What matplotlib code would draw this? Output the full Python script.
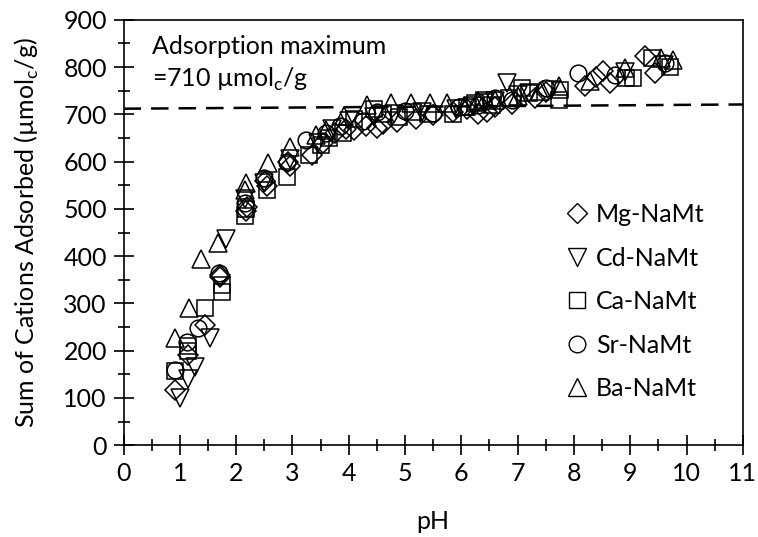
import matplotlib
matplotlib.use('Agg')
import matplotlib.pyplot as plt
from matplotlib.ticker import MultipleLocator

plt.rcParams['font.family'] = ['Lato', 'DejaVu Sans']
plt.rcParams['mathtext.fontset'] = 'custom'
plt.rcParams['mathtext.rm'] = 'Lato'

# pH / sum of adsorbed cations (umol_c/g)
mg_ph = [0.92, 1.15, 1.45, 1.72, 1.72, 2.17, 2.2, 2.55, 2.52, 2.95, 2.92, 3.35, 3.55, 3.75, 3.95,
         4.1, 4.3, 4.5, 4.6, 4.85, 5.2, 5.5, 5.85, 6.1, 6.3, 6.45, 6.6, 6.9, 7.3, 7.5, 8.2, 8.4,
         8.52, 8.64, 9.26, 9.44]
mg_ads = [116, 190, 254, 360, 355, 495, 505, 548, 560, 590, 600, 613, 640, 660, 670,
          668, 675, 672, 680, 684, 690, 698, 705, 712, 700, 705, 715, 722, 735, 748, 760, 780,
          791, 766, 823, 787]

cd_ph = [1.0, 1.15, 1.27, 1.53, 1.82, 2.15, 2.5, 2.95, 3.45, 3.7, 4.0, 4.45, 4.8, 5.3, 5.9,
         6.2, 6.4, 6.6, 6.81, 7.0, 7.2, 7.6, 8.9, 9.6]
cd_ads = [99, 141, 166, 226, 437, 520, 555, 605, 640, 670, 685, 695, 700, 705, 712,
          718, 725, 728, 766, 740, 745, 752, 790, 805]

ca_ph = [0.91, 1.15, 1.15, 1.44, 1.74, 1.74, 2.15, 2.18, 2.55, 2.9, 3.3, 3.5, 3.65, 3.9, 4.1,
         4.45, 4.6, 4.9, 5.15, 5.4, 5.85, 6.1, 6.25, 6.4, 6.55, 6.85, 7.08, 7.2, 7.73, 7.75,
         8.93, 9.05, 9.38, 9.7]
ca_ads = [157, 200, 210, 290, 325, 340, 484, 500, 540, 568, 614, 635, 650, 660, 690,
          712, 700, 695, 705, 700, 700, 715, 725, 730, 720, 735, 756, 745, 731, 752,
          777, 777, 819, 801]

sr_ph = [0.91, 1.12, 1.32, 1.7, 2.15, 2.5, 2.9, 3.24, 3.6, 3.85, 4.25, 4.5, 5.0, 5.5, 5.95,
         6.3, 6.6, 6.9, 7.5, 8.08, 8.73, 9.61]
sr_ads = [159, 219, 247, 365, 512, 565, 600, 646, 660, 675, 685, 705, 708, 702, 715,
          720, 735, 730, 755, 787, 784, 809]

ba_ph = [0.91, 1.17, 1.38, 1.68, 2.18, 2.16, 2.56, 2.95, 3.42, 3.6, 3.92, 4.33, 4.75, 5.1, 5.45,
         5.75, 6.05, 6.3, 6.6, 7.0, 7.4, 7.73, 8.29, 8.9, 9.55, 9.76]
ba_ads = [226, 290, 395, 428, 554, 540, 597, 632, 657, 667, 696, 720, 724, 724, 724,
          724, 718, 728, 730, 738, 750, 759, 770, 798, 819, 816]

# adsorption maximum line
max_ph = [0, 11]
max_ads = [712, 721]

fig = plt.figure(figsize=(7.58, 5.37), dpi=100)
ax = fig.add_axes([0.163, 0.171, 0.817, 0.792])

style = dict(linestyle='none', markerfacecolor='none', markeredgecolor='black', markeredgewidth=1.1)
ax.plot(mg_ph, mg_ads, marker='D', markersize=10, label='Mg-NaMt', **style)
ax.plot(cd_ph, cd_ads, marker='v', markersize=13, label='Cd-NaMt', **style)
ax.plot(ca_ph, ca_ads, marker='s', markersize=11, label='Ca-NaMt', **style)
ax.plot(sr_ph, sr_ads, marker='o', markersize=12, label='Sr-NaMt', **style)
ax.plot(ba_ph, ba_ads, marker='^', markersize=13, label='Ba-NaMt', **style)

ax.plot(max_ph, max_ads, color='black', linewidth=1.8, dashes=(7, 4))

ax.text(0.5, 843, 'Adsorption maximum', fontsize=18, va='center')
ax.text(0.5, 773, '=710 µmol$_\\mathregular{c}$/g', fontsize=18, va='center')

ax.set_xlim(0, 11)
ax.set_ylim(0, 900)
ax.xaxis.set_major_locator(MultipleLocator(1))
ax.xaxis.set_minor_locator(MultipleLocator(0.5))
ax.yaxis.set_major_locator(MultipleLocator(100))
ax.yaxis.set_minor_locator(MultipleLocator(50))
ax.tick_params(which='major', direction='inout', length=14, width=1.2, labelsize=18, pad=5)
ax.tick_params(which='minor', direction='inout', length=9, width=1.2)
for s in ax.spines.values():
    s.set_linewidth(1.2)

ax.set_xlabel('pH', fontsize=18, labelpad=18)
ax.set_ylabel('Sum of Cations Adsorbed (µmol$_\\mathregular{c}$/g)', fontsize=18, labelpad=16)

leg = ax.legend(loc='upper left', bbox_to_anchor=(0.712, 0.569), frameon=False, fontsize=18,
                borderpad=0, borderaxespad=0, handletextpad=0.25, labelspacing=0.82,
                handlelength=1.0)
for h in leg.legend_handles:
    h.set_markeredgewidth(1.0)

fig.savefig('out.png', dpi=100)
